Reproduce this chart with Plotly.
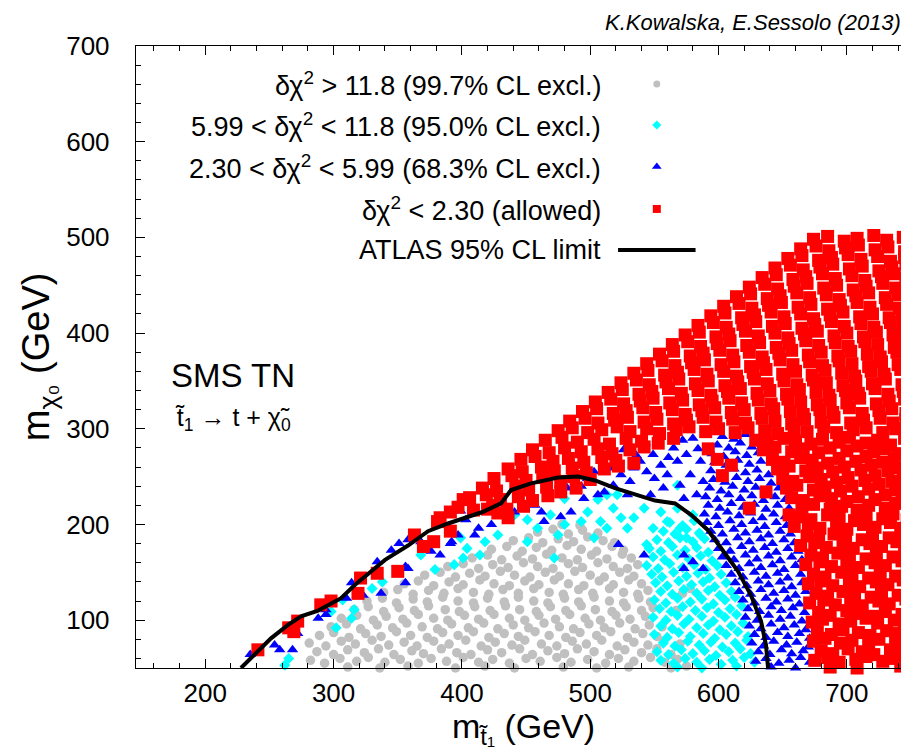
import plotly.graph_objects as go

# ---------------- data ----------------
x_ticks = [200, 300, 400, 500, 600, 700]
y_ticks = [100, 200, 300, 400, 500, 600, 700]

# ATLAS 95% CL limit contour
limit_x = [227.8, 235.6, 251.2, 264.5, 274.6, 287.9, 298.0, 305.8, 316.7, 329.2, 340.1, 358.0,
           373.6, 389.2, 404.8, 416.0, 430.5, 438.3, 453.9, 474.9, 490.5, 503.8, 519.3, 534.9,
           550.5, 566.1, 578.6, 591.8, 602.0, 615.2, 625.3, 633.1, 637.0, 638.6]
limit_y = [50, 60, 81, 95, 104, 110, 118, 123, 137, 151, 163, 178,
           193, 201, 208, 213, 222, 236, 243, 249, 250, 246, 238, 231,
           225, 222, 210, 194, 175, 151, 126, 99, 74, 50]

# delta chi2 > 11.8 (grey)
grey_pts = [
 (288,49),(297,46),(311,51),(320,48),(336,50),(345,47),(358,52),(372,48),(381,46),(395,50),(409,48),(418,52),(433,47),(441,50),(456,49),(470,46),(479,51),(493,48),(505,50),(517,47),(530,51),(539,49),(553,46),(563,50),
 (282,58),(293,55),(305,60),(318,57),(327,61),(340,56),(352,59),(366,55),(376,60),(388,57),(401,61),(413,56),(424,59),(437,55),(450,60),(461,57),(474,61),(485,56),(498,59),(512,55),(522,60),(534,57),(547,61),(558,56),(568,59),
 (287,67),(300,64),(311,69),(324,66),(335,70),(347,64),(361,68),(370,65),(384,70),(396,66),(407,64),(420,69),(431,66),(445,70),(455,64),(467,68),(480,65),(490,70),(503,67),(515,64),(527,69),(540,66),(552,70),(563,64),
 (281,76),(294,73),(306,78),(317,75),(330,79),(343,74),(355,77),(365,73),(378,78),(390,75),(403,79),(415,73),(426,77),(439,74),(449,79),(462,75),(474,73),(486,78),(497,75),(509,79),(521,73),(534,77),(545,74),(557,78),
 (289,84),(300,87),(312,82),(325,86),(337,83),(349,88),(360,84),(373,82),(385,87),(397,84),(409,88),(421,82),(433,86),(444,83),(457,88),(468,84),(481,82),(492,87),(505,84),(516,88),(529,82),(541,86),(552,83),
 (298,93),(310,96),(321,91),(334,95),(346,92),(357,97),(369,93),(381,91),(392,96),(405,92),(417,97),(428,91),(440,95),(452,92),(464,97),(476,93),(487,91),(499,96),(511,92),(523,97),(535,91),(546,95),(556,93),
 (306,102),(318,105),(331,100),(341,104),(354,101),(366,106),(378,102),(389,100),(402,105),(413,101),(425,106),(437,102),(449,100),(460,105),(473,101),(484,106),(496,102),(508,100),(520,105),(531,101),(543,104),
 (316,111),(327,114),(339,109),(351,113),(363,110),(374,115),(387,111),(398,109),(410,114),(422,110),(434,115),(445,111),(458,109),(469,114),(481,110),(493,115),(504,111),(517,109),(528,114),(540,110),(549,113),
 (326,120),(338,123),(349,118),(362,122),(373,119),(385,124),(397,120),(409,118),(420,123),(433,119),(444,124),(456,120),(467,118),(480,123),(491,119),(503,124),(515,120),(526,118),(538,123),(547,119),
 (339,129),(350,132),(362,127),(374,131),(386,128),(397,133),(409,129),(421,127),(432,132),(444,128),(456,133),(468,129),(479,127),(491,132),(502,128),(515,133),(526,129),(537,127),(545,131),
 (355,138),(366,141),(378,136),(390,140),(401,137),(414,142),(425,138),(437,136),(449,141),(460,137),(472,142),(483,138),(495,136),(507,141),(518,137),(530,142),(540,138),
 (371,147),(383,150),(395,145),(406,149),(418,146),(430,151),(441,147),(453,145),(465,150),(476,146),(488,151),(500,147),(511,145),(523,150),(534,146),
 (389,156),(401,159),(413,154),(424,158),(436,155),(448,160),(459,156),(471,154),(483,159),(494,155),(506,160),(518,156),(529,154),(537,158),
 (408,165),(420,168),(431,163),(443,167),(455,164),(466,169),(478,165),(490,163),(501,168),(513,164),(525,169),(532,165),
 (423,174),(435,177),(447,172),(458,176),(470,173),(482,178),(493,174),(505,172),(517,177),(526,173),
 (440,183),(452,186),(463,181),(475,185),(487,182),(498,187),(510,183),(519,181),
 (459,192),(471,195),(483,190),(494,194),(506,191),
 (478,200),(492,199),
 (572,128),(578,133),(567,110),(570,75),(575,52),
]

# 5.99 < delta chi2 < 11.8 (cyan)
cyan_pts = [
 (262,53),(265,60),(302,92),(298,109),(314,102),(316,111),(307,121),(330,133),(338,140),(368,168),(379,153),(394,158),(401,165),(399,186),
 (404,175),(414,168),(418,182),(428,189),(441,210),(451,205),(451,182),(459,196),(469,210),(472,165),(475,189),(480,200),(493,203),(498,213),
 (503,186),(508,203),(513,196),(518,217),(521,231),(524,207),(529,196),(534,207),(542,217),(544,179),(549,196),(555,213),(560,203),(568,241),
 (568,217),(570,196),(575,186),(580,210),(586,189),(506,226),(513,231),(480,227),
 (560,48),(568,51),(578,47),(587,50),(596,46),(606,49),(614,52),(623,47),
 (555,58),(565,55),(574,60),(583,56),(593,59),(602,54),(611,58),(620,61),(628,56),
 (552,67),(561,64),(571,69),(580,65),(589,68),(598,63),(608,67),(617,70),(625,65),
 (557,76),(566,73),(576,78),(585,74),(594,77),(603,72),(613,76),(622,79),
 (550,85),(560,82),(569,87),(578,83),(588,86),(597,81),(606,85),(615,88),(623,83),
 (555,94),(564,91),(573,96),(583,92),(592,95),(601,90),(610,94),(619,97),
 (549,103),(559,100),(568,105),(577,101),(587,104),(596,99),(605,103),(614,106),
 (554,112),(563,109),(572,114),(582,110),(591,113),(600,108),(609,112),(618,115),
 (550,121),(559,118),(568,123),(578,119),(587,122),(596,117),(605,121),(613,124),
 (555,130),(564,127),(573,132),(583,128),(592,131),(601,126),(610,130),
 (551,139),(560,136),(569,141),(579,137),(588,140),(597,135),(606,139),
 (548,148),(556,145),(565,150),(575,146),(584,149),(593,144),(602,148),
 (544,157),(553,154),(562,159),(572,155),(581,158),(590,153),(599,157),
 (549,166),(558,163),(568,168),(577,164),(586,167),(595,162),
 (546,175),(555,172),(564,177),(574,173),(583,176),(592,171),
 (552,184),(561,181),(570,186),(580,182),(589,185),
 (557,193),(566,190),(575,195),(585,191),
 (562,202),(572,199),(581,204),
]

# 2.30 < delta chi2 < 5.99 (blue)
blue_pts = [
 (235,64),(254,74),(258,69),(268,69),(272,86),(288,102),(294,106),(294,111),(310,123),(314,139),(323,126),(334,161),(337,128),
 (345,173),(351,180),(356,156),(358,184),(358,154),(368,182),(356,139),(376,172),(383,168),(391,180),(399,214),(403,205),
 (392,182),(397,189),(410,189),(413,196),(423,200),(428,227),(441,213),(449,217),(457,220),(462,213),(464,203),(467,227),
 (477,208),(482,238),(485,213),(488,241),(493,240),(495,227),(503,255),(506,231),(511,234),(516,259),(518,241),(524,252),
 (529,231),(531,245),(534,259),(539,266),(544,255),(547,231),(549,273),(555,262),(557,238),(560,252),(565,280),(568,266),
 (570,241),(573,227),(575,273),(578,252),(580,290),(583,231),(586,266),(588,245),(522,179),(542,168),(573,168),(573,154),
 (580,161),(588,154),(510,270),(526,278),(543,285),(554,293),(561,270),(536,272),(550,248),(572,288),(584,279),(521,262),(498,248),
 (633,48),(641,51),(651,47),(660,50),(669,46),
 (629,57),(637,60),(647,55),(655,58),(664,61),(671,56),
 (631,67),(640,64),(649,69),(657,65),(666,68),
 (626,76),(635,73),(643,78),(653,74),(661,77),(670,72),
 (628,85),(637,82),(646,87),(654,83),(663,86),(671,81),
 (624,94),(633,91),(641,96),(651,92),(659,95),(668,90),
 (621,103),(630,100),(639,105),(648,101),(656,104),(665,99),
 (623,112),(632,109),(641,114),(649,110),(658,113),(667,108),
 (619,121),(628,118),(637,123),(645,119),(654,122),(663,117),
 (616,130),(625,127),(633,132),(643,128),(651,131),(660,126),(668,130),
 (613,139),(622,136),(631,141),(639,137),(648,140),(657,135),(665,139),
 (610,148),(619,145),(628,150),(637,146),(646,149),(654,144),(664,148),
 (606,157),(616,154),(624,159),(633,155),(642,158),(651,153),(660,157),
 (603,166),(612,163),(621,168),(630,164),(639,167),(648,162),(657,166),(665,163),
 (600,175),(609,172),(618,177),(627,173),(636,176),(645,171),(654,175),(662,172),
 (597,184),(606,181),(615,186),(624,182),(633,185),(642,180),(651,184),(659,181),
 (594,193),(603,190),(612,195),(621,191),(630,194),(639,189),(648,193),(656,190),
 (591,202),(600,199),(609,204),(618,200),(627,203),(636,198),(645,202),(653,199),
 (589,211),(598,208),(607,213),(616,209),(625,212),(634,207),(643,211),(652,208),
 (592,220),(601,217),(610,222),(619,218),(628,221),(637,216),(646,220),(655,217),
 (590,229),(599,226),(608,231),(617,227),(626,230),(635,225),(644,229),(652,226),
 (593,238),(602,235),(611,240),(620,236),(629,239),(638,234),(647,238),
 (596,247),(605,244),(614,249),(623,245),(632,248),(641,243),
 (594,256),(603,253),(612,258),(621,254),(630,257),(639,252),
 (597,265),(606,262),(615,267),(624,263),(633,266),
 (595,274),(604,271),(613,276),(622,272),(631,275),
 (599,283),(608,280),(617,285),(626,281),
 (603,292),(612,289),(621,294),
]

# delta chi2 < 2.30 (red, allowed)
red_pts = [
 (241,69),(265,92),(272,99),(269,88),(290,116),(298,120),(321,144),(319,128),(334,149),(350,151),(363,189),(370,177),
 (378,182),(383,207),(391,213),(381,203),(391,193),(401,226),(428,212),(436,207),(420,216),
 (592,279),(599,268),(603,251),(610,262),(624,217),(637,234),(655,210),
 (678,48),(687,51),(699,47),(708,50),(721,46),(730,49),(742,52),(747,47),
 (675,58),(685,61),(694,56),(707,59),(715,62),(728,57),(737,60),(746,56),
 (680,68),(689,65),(701,70),(712,67),(721,64),(734,69),(743,66),
 (674,78),(683,81),(695,76),(704,79),(717,75),(725,80),(738,77),(747,74),
 (677,88),(688,85),(697,90),(709,87),(718,84),(731,89),(740,86),(748,91),
 (673,98),(681,101),(694,96),(703,99),(715,102),(724,97),(737,100),(745,95),
 (678,108),(687,105),(700,110),(708,107),(721,104),(730,109),(743,106),
 (671,118),(682,121),(691,116),(703,119),(712,115),(725,120),(733,117),(746,122),
 (676,128),(685,125),(697,130),(706,127),(719,124),(727,129),(740,126),(748,131),
 (670,138),(680,141),(689,136),(702,139),(710,135),(723,140),(732,137),(744,142),
 (674,148),(683,145),(696,150),(704,147),(717,144),(726,149),(738,146),(747,151),
 (668,158),(679,161),(688,156),(700,159),(709,155),(722,160),(730,157),(743,162),
 (672,168),(681,165),(693,170),(702,167),(715,164),(723,169),(736,166),(745,171),
 (664,178),(675,181),(684,176),(697,179),(705,175),(718,180),(727,177),(739,182),(748,176),
 (669,188),(678,185),(690,190),(699,187),(712,184),(720,189),(733,186),(742,191),
 (659,198),(670,201),(679,196),(692,199),(700,195),(713,200),(722,197),(734,202),(744,196),
 (663,208),(672,205),(685,210),(694,207),(706,204),(715,209),(728,206),(736,211),(747,205),
 (665,218),(674,221),(687,216),(696,219),(708,215),(717,220),(730,217),(738,222),(748,216),
 (657,228),(666,225),(679,230),(688,227),(700,224),(709,229),(722,226),(730,231),(743,225),
 (653,238),(661,241),(674,236),(683,239),(695,235),(704,240),(717,237),(725,242),(738,236),(747,239),
 (650,248),(658,245),(671,250),(680,247),(692,244),(701,249),(714,246),(722,251),(735,245),(744,248),
 (646,258),(655,261),(668,256),(677,259),(689,255),(698,260),(711,257),(719,262),(732,256),(741,259),
 (642,268),(651,265),(664,270),(673,267),(685,264),(694,269),(707,266),(715,271),(728,265),(737,268),(747,263),
 (635,278),(644,281),(657,276),(666,279),(678,275),(687,280),(700,277),(708,282),(721,276),(730,279),(740,274),(748,281),
 (629,288),(638,285),(651,290),(660,287),(672,284),(681,289),(694,286),(702,291),(715,285),(724,288),(734,283),(745,290),
 (397,218),(409,215),(424,220),(435,216),(448,219),
 (406,228),(419,231),(430,226),(444,229),(455,225),(467,230),
 (416,238),(427,235),(442,240),(452,236),(466,239),(477,234),(489,238),
 (425,248),(439,251),(450,246),(463,249),(477,245),(487,250),(500,247),
 (436,258),(447,255),(462,260),(472,256),(486,259),(497,254),(511,258),(522,261),
 (446,268),(457,271),(471,266),(483,269),(495,265),(509,270),(520,267),(534,264),
 (455,278),(468,275),(480,280),(493,276),(506,279),(517,274),(531,278),(542,281),
 (465,288),(478,291),(490,286),(503,289),(515,284),(528,290),(540,287),(553,285),(565,290),
 (475,298),(486,301),(498,296),(509,299),(521,302),(531,297),(544,300),(554,295),(567,299),(577,302),(590,297),(600,300),(613,296),(623,301),(636,298),(646,295),(659,300),(669,297),(682,302),(692,296),(705,299),(715,301),(728,296),(738,300),(747,297),
 (484,308),(496,311),(506,306),(519,309),(529,312),(542,307),(552,310),(565,305),(575,309),(588,312),(598,307),(611,310),(621,306),(634,311),(644,308),(657,305),(667,310),(680,307),(690,312),(703,306),(713,309),(726,311),(736,306),(746,310),
 (494,318),(505,321),(518,316),(528,319),(541,322),(551,317),(564,320),(574,315),(587,319),(597,322),(610,317),(620,320),(633,316),(643,321),(656,318),(666,315),(679,320),(689,317),(702,322),(712,316),(725,319),(735,321),(746,316),
 (504,328),(516,331),(526,326),(539,329),(549,332),(562,327),(572,330),(585,325),(595,329),(608,332),(618,327),(631,330),(641,326),(654,331),(664,328),(677,325),(687,330),(700,327),(710,332),(723,326),(733,329),(745,331),
 (514,338),(525,341),(538,336),(548,339),(561,342),(571,337),(584,340),(594,335),(607,339),(617,342),(630,337),(640,340),(653,336),(663,341),(676,338),(686,335),(699,340),(709,337),(722,342),(732,336),(744,339),
 (524,348),(536,351),(546,346),(559,349),(569,352),(582,347),(592,350),(605,345),(615,349),(628,352),(638,347),(651,350),(661,346),(674,351),(684,348),(697,345),(707,350),(720,347),(730,352),(743,346),
 (534,358),(545,361),(558,356),(568,359),(581,362),(591,357),(604,360),(614,355),(627,359),(637,362),(650,357),(660,360),(673,356),(683,361),(696,358),(706,355),(719,360),(729,357),(742,362),
 (544,368),(556,371),(566,366),(579,369),(589,372),(602,367),(612,370),(625,365),(635,369),(648,372),(658,367),(671,370),(681,366),(694,371),(704,368),(717,365),(727,370),(740,367),(748,372),
 (554,378),(565,381),(578,376),(588,379),(601,382),(611,377),(624,380),(634,375),(647,379),(657,382),(670,377),(680,380),(693,376),(703,381),(716,378),(726,375),(739,380),(747,377),
 (564,388),(576,391),(586,386),(599,389),(609,392),(622,387),(632,390),(645,385),(655,389),(668,392),(678,387),(691,390),(701,386),(714,391),(724,388),(737,385),(746,390),
 (574,398),(585,401),(598,396),(608,399),(621,402),(631,397),(644,400),(654,395),(667,399),(677,402),(690,397),(700,400),(713,396),(723,401),(736,398),(745,395),
 (584,408),(596,411),(606,406),(619,409),(629,412),(642,407),(652,410),(665,405),(675,409),(688,412),(698,407),(711,410),(721,406),(734,411),(744,408),
 (594,418),(605,421),(618,416),(628,419),(641,422),(651,417),(664,420),(674,415),(687,419),(697,422),(710,417),(720,420),(733,416),(743,421),
 (604,428),(616,431),(626,426),(639,429),(649,432),(662,427),(672,430),(685,425),(695,429),(708,432),(718,427),(731,430),(741,426),
 (614,438),(625,441),(638,436),(648,439),(661,442),(671,437),(684,440),(694,435),(707,439),(717,442),(730,437),(740,440),(748,436),
 (624,448),(636,451),(646,446),(659,449),(669,452),(682,447),(692,450),(705,445),(715,449),(728,452),(738,447),(747,450),
 (634,458),(645,461),(658,456),(668,459),(681,462),(691,457),(704,460),(714,455),(727,459),(737,462),(746,457),
 (644,468),(656,471),(666,466),(679,469),(689,472),(702,467),(712,470),(725,465),(735,469),(746,472),
 (654,478),(665,481),(678,476),(688,479),(701,482),(711,477),(724,480),(734,475),(745,479),
 (664,488),(676,491),(686,486),(699,489),(709,492),(722,487),(732,490),(745,485),
 (674,498),(685,501),(698,496),(708,499),(721,502),(731,497),(744,500),
]

legend_labels = [
    "δχ<sup>2</sup> &gt; 11.8 (99.7% CL excl.)",
    "5.99 &lt; δχ<sup>2</sup> &lt; 11.8 (95.0% CL excl.)",
    "2.30 &lt; δχ<sup>2</sup> &lt; 5.99 (68.3% CL excl.)",
    "δχ<sup>2</sup> &lt; 2.30 (allowed)",
    "ATLAS 95% CL limit",
]

# ---------------- figure ----------------
FONT = "Liberation Sans, Arial, Helvetica, sans-serif"
GREY, CYAN, BLUE, RED = "#c0c0c0", "#00ffff", "#0000ff", "#ff0000"

series = [
    (grey_pts, "circle", GREY, 9.5),
    (cyan_pts, "diamond", CYAN, 8.5),
    (blue_pts, "triangle-up", BLUE, 10),
    (red_pts, "square", RED, 13),
]
legend_sizes = [7, 7, 8.5, 8]

fig = go.Figure()
for pts, sym, col, sz in series:
    fig.add_trace(go.Scatter(
        x=[p[0] for p in pts], y=[p[1] for p in pts], mode="markers",
        marker=dict(symbol=sym, color=col, size=sz, line=dict(width=0)),
        cliponaxis=False, showlegend=False, hoverinfo="skip"))

fig.add_trace(go.Scatter(x=limit_x, y=limit_y, mode="lines",
                         line=dict(color="black", width=4), cliponaxis=False,
                         showlegend=False, hoverinfo="skip"))

# custom legend (text left, key right) on a hidden overlay axis in [0,1]
key_x = 0.672
row_y = [0.939, 0.873, 0.806, 0.738, 0.672]
for (pts, sym, col, sz), lsz, yy in zip(series, legend_sizes, row_y[:4]):
    fig.add_trace(go.Scatter(x=[key_x], y=[yy], xaxis="x2", yaxis="y2", mode="markers",
                             marker=dict(symbol=sym, color=col, size=lsz, line=dict(width=0)),
                             cliponaxis=False, showlegend=False, hoverinfo="skip"))
fig.add_trace(go.Scatter(x=[0.622, 0.722], y=[row_y[4], row_y[4]], xaxis="x2", yaxis="y2",
                         mode="lines", line=dict(color="black", width=4),
                         cliponaxis=False, showlegend=False, hoverinfo="skip"))

annotations = []
for lab, yy in zip(legend_labels, row_y):
    annotations.append(dict(x=0.603, y=yy, xref="paper", yref="paper", text=lab,
                            xanchor="right", yanchor="middle", showarrow=False,
                            font=dict(family=FONT, size=27, color="black")))
annotations += [
    dict(x=0.042, y=0.470, xref="paper", yref="paper", text="SMS TN", xanchor="left",
         yanchor="middle", showarrow=False, font=dict(family=FONT, size=33, color="black")),
    dict(x=0.048, y=0.400, xref="paper", yref="paper",
         text="t̃<sub>1</sub> → t + χ̃<sub>0</sub>", xanchor="left", yanchor="middle",
         showarrow=False, font=dict(family=FONT, size=25, color="black")),
    dict(x=0.99, y=1.038, xref="paper", yref="paper",
         text="<i>K.Kowalska, E.Sessolo (2013)</i>", xanchor="right", yanchor="middle",
         showarrow=False, font=dict(family=FONT, size=22, color="black")),
    dict(x=0.5, y=-0.097, xref="paper", yref="paper", text="m<sub>t̃₁</sub> (GeV)",
         xanchor="center", yanchor="middle", showarrow=False,
         font=dict(family=FONT, size=34, color="black")),
    dict(x=-0.125, y=0.5, xref="paper", yref="paper", text="m<sub>χ₀</sub> (GeV)",
         textangle=-90, xanchor="center", yanchor="middle", showarrow=False,
         font=dict(family=FONT, size=38, color="black")),
]

axis_common = dict(
    showline=True, linecolor="black", linewidth=1.4, mirror="allticks",
    ticks="inside", ticklen=9, tickwidth=1.2, tickcolor="black",
    showgrid=False, zeroline=False,
    tickfont=dict(family=FONT, size=26, color="black"),
    minor=dict(ticks="inside", ticklen=5, tickwidth=1, tickcolor="black",
               dtick=20, showgrid=False),
)

fig.update_layout(
    width=909, height=756,
    margin=dict(l=128, r=6, t=38, b=96),
    paper_bgcolor="white", plot_bgcolor="white",
    xaxis=dict(range=[146, 750], tickmode="array", tickvals=x_ticks,
               ticklabelstandoff=2, **axis_common),
    yaxis=dict(range=[50, 700], tickmode="array", tickvals=y_ticks,
               ticklabelstandoff=20, **axis_common),
    xaxis2=dict(range=[0, 1], overlaying="x", visible=False),
    yaxis2=dict(range=[0, 1], overlaying="y", visible=False),
    annotations=annotations,
    showlegend=False,
)

fig.write_html("out.html")
